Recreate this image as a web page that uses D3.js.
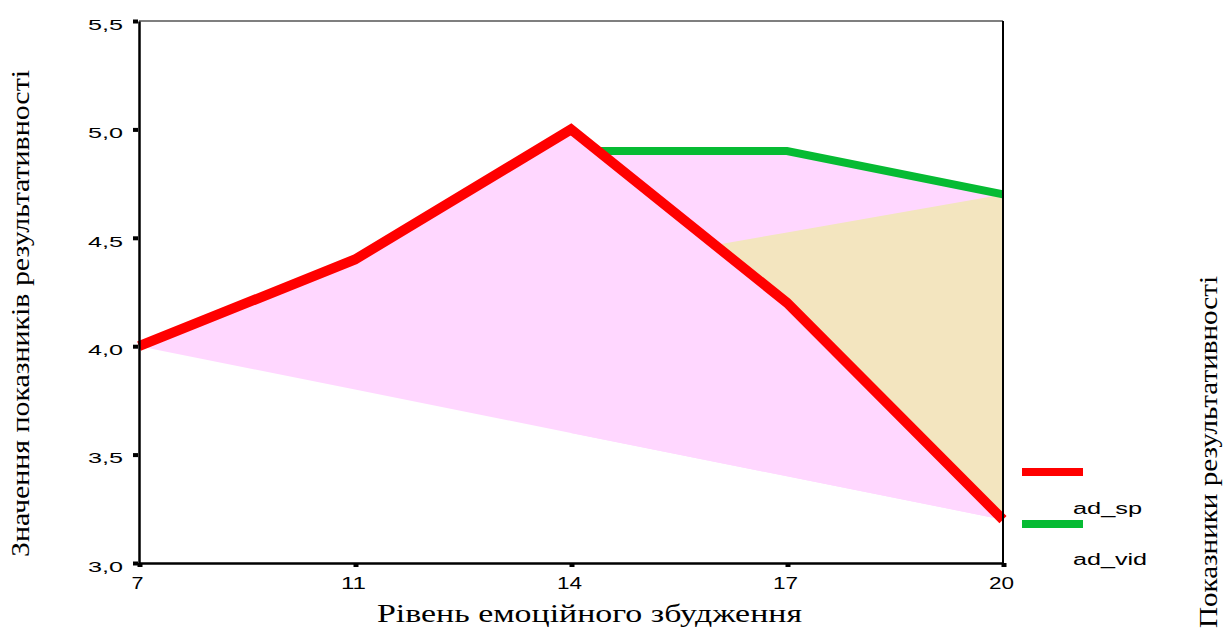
<!DOCTYPE html>
<html>
<head>
<meta charset="utf-8">
<script src="https://cdn.jsdelivr.net/npm/d3@7"></script>
<style>body{margin:0;background:#fff;overflow:hidden}</style>
</head>
<body>
<script>
// data
const categories = ["7", "11", "14", "17", "20"];
const adSp = [4.0, 4.4, 5.0, 4.2, 3.2];
const adVid = [null, null, 4.9, 4.9, 4.7];
const bandLow = [4.0, 3.8, 3.6, 3.4, 3.2];
const bandHigh = [4.0, 4.175, 4.35, 4.525, 4.7];
const yTicks = [3.0, 3.5, 4.0, 4.5, 5.0, 5.5];
const seriesNames = ["ad_sp", "ad_vid"];
const seriesColors = ["#ff0000", "#06bb33"];

var width = 1225, height = 631;
var svg = d3.select("body").append("svg")
    .attr("width", width).attr("height", height);

var x = d3.scalePoint().domain(categories).range([139, 1003]);
var y = d3.scaleLinear().domain([3.0, 5.5]).range([563, 21]);
var idx = d3.range(categories.length);
var sans = "'Liberation Sans', Arial, sans-serif";
var serif = "'Liberation Serif', 'Times New Roman', serif";

// pink band: lower edge up to whichever line is higher
var pink = "#ffd7ff";
svg.append("path")
    .attr("d", d3.area().x(i => x(categories[i])).y0(i => y(bandLow[i])).y1(i => y(adSp[i]))(idx))
    .attr("fill", pink);
svg.append("path")
    .attr("d", d3.area().defined(i => adVid[i] != null)
        .x(i => x(categories[i])).y0(i => y(bandLow[i])).y1(i => y(adVid[i]))(idx))
    .attr("fill", pink);

// region above the red line, used as a clip
svg.append("clipPath").attr("id", "aboveRed").append("path")
    .attr("d", d3.area().x(i => x(categories[i])).y0(i => y(adSp[i])).y1(0)(idx));

// tan band: under the upper chord, above the red line
svg.append("path")
    .attr("clip-path", "url(#aboveRed)")
    .attr("d", d3.area().x(i => x(categories[i])).y0(y(3.0)).y1(i => y(bandHigh[i]))(idx))
    .attr("fill", "#f3e5bf");

// lines, red on top
var line = vals => d3.line().defined(i => vals[i] != null)
    .x(i => x(categories[i])).y(i => y(vals[i]))(idx);
svg.append("path").attr("d", line(adVid)).attr("fill", "none")
    .attr("clip-path", "url(#aboveRed)")
    .attr("stroke", seriesColors[1]).attr("stroke-width", 8);
svg.append("path").attr("d", line(adSp)).attr("fill", "none")
    .attr("stroke", seriesColors[0]).attr("stroke-width", 10)
    .attr("stroke-linejoin", "miter");

// frame
svg.append("line").attr("x1", 139).attr("x2", 1003).attr("y1", 21).attr("y2", 21)
    .attr("stroke", "#000").attr("stroke-width", 1.2);
svg.append("line").attr("x1", 1003).attr("x2", 1003).attr("y1", 21).attr("y2", 563)
    .attr("stroke", "#000").attr("stroke-width", 2);

// axes
var yAxis = svg.append("g").attr("transform", "translate(139,0)")
    .call(d3.axisLeft(y).tickValues(yTicks).tickSize(0).tickPadding(16)
        .tickFormat(d => d3.format(".1f")(d).replace(".", ",")));
yAxis.select(".domain").attr("stroke", "#000").attr("stroke-width", 2.5);
yAxis.selectAll(".tick text").attr("font-family", sans).attr("font-size", 15)
    .attr("dy", "0.55em").attr("textLength", 35).attr("lengthAdjust", "spacingAndGlyphs");
yAxis.selectAll(".tick").append("rect")
    .attr("x", -6).attr("y", -2).attr("width", 5).attr("height", 4).attr("fill", "#000");

var xAxis = svg.append("g").attr("transform", "translate(0,563)")
    .call(d3.axisBottom(x).tickSize(0).tickPadding(15));
xAxis.select(".domain").attr("stroke", "#000").attr("stroke-width", 2.5);
xAxis.selectAll(".tick text").attr("font-family", sans).attr("font-size", 16)
    .attr("dx", -2)
    .each(function (d) { d3.select(this).attr("textLength", d.length > 1 ? 25 : 12)
        .attr("lengthAdjust", "spacingAndGlyphs"); });
xAxis.selectAll(".tick").append("rect")
    .attr("x", -2).attr("y", 0).attr("width", 5).attr("height", 4).attr("fill", "#000");

// titles
svg.append("text").attr("x", 377).attr("y", 622)
    .attr("font-family", serif).attr("font-size", 26)
    .attr("textLength", 425).attr("lengthAdjust", "spacingAndGlyphs")
    .text("Рівень емоційного збудження");
svg.append("text").attr("transform", "translate(29,557) rotate(-90)")
    .attr("font-family", serif).attr("font-size", 26)
    .attr("textLength", 487).attr("lengthAdjust", "spacingAndGlyphs")
    .text("Значення показників результативності");
svg.append("text").attr("transform", "translate(1217,628) rotate(-90)")
    .attr("font-family", serif).attr("font-size", 26)
    .attr("textLength", 352).attr("lengthAdjust", "spacingAndGlyphs")
    .text("Показники результативності");

// legend
var legend = svg.append("g").selectAll("g").data(seriesNames).join("g")
    .attr("transform", (d, i) => `translate(1022,${472 + i * 52})`);
legend.append("line").attr("x1", 0).attr("x2", 61).attr("y1", 0).attr("y2", 0)
    .attr("stroke", (d, i) => seriesColors[i]).attr("stroke-width", 8);
legend.append("text").attr("x", 51).attr("y", (d, i) => 42 - i * 1)
    .attr("font-family", sans).attr("font-size", 16)
    .attr("textLength", (d, i) => i ? 74 : 69).attr("lengthAdjust", "spacingAndGlyphs")
    .text(d => d);
</script>
</body>
</html>
